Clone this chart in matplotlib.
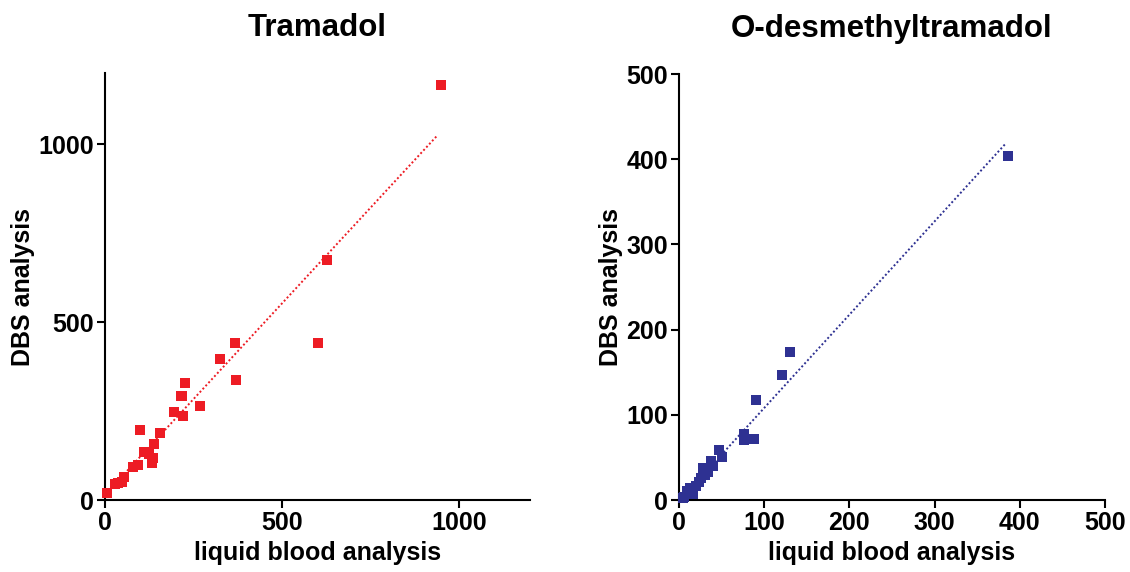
import matplotlib
matplotlib.use("Agg")
import matplotlib.pyplot as plt
import numpy as np

plt.rcParams['font.family'] = ['Liberation Sans', 'DejaVu Sans']
plt.rcParams['font.weight'] = 'bold'

# Tramadol data
tram_x = [5, 28, 37, 47, 53, 80, 94, 98, 110, 125, 136, 134, 139, 155, 196, 219, 216, 226,
          268, 325, 368, 369, 628, 601, 950]
tram_y = [21, 44, 47, 50, 66, 92, 97, 196, 135, 129, 119, 105, 157, 187, 247, 235, 293, 329,
          265, 396, 441, 338, 674, 440, 1166]
tram_fit_x = [5, 937]
tram_fit_y = [20, 1023]

# O-desmethyltramadol data
odt_x = [130, 120.5, 90, 88, 76, 76, 47, 50, 38, 40, 28, 34, 30.5, 26, 23, 19.6, 17, 13, 9, 6, 5, 386]
odt_y = [174, 147, 117, 72, 78, 71, 59, 50, 46, 40, 37, 33, 29, 26, 21, 16, 7, 14, 10, 4, 2, 404]
odt_fit_x = [5, 384]
odt_fit_y = [4, 419]

titles = ["Tramadol", "O-desmethyltramadol"]
xlabel = "liquid blood analysis"
ylabel = "DBS analysis"

fig = plt.figure(figsize=(11.3, 5.72), dpi=100)
ax1 = fig.add_axes([105/1130, 72/572, 425/1130, 427/572])
ax2 = fig.add_axes([679/1130, 72/572, 426/1130, 426/572])

def style(ax, color, xs, ys, fx, fy, lim, ticks, title):
    ax.plot(fx, fy, linestyle=(0, (1, 1.2)), color=color, linewidth=1.4)
    ax.scatter(xs, ys, marker='s', s=52, color=color, edgecolors='none', zorder=3, clip_on=False)
    ax.set_xlim(0, lim)
    ax.set_ylim(0, lim)
    ax.set_xticks(ticks)
    ax.set_yticks(ticks)
    for s in ['top', 'right']:
        ax.spines[s].set_visible(False)
    for s in ['left', 'bottom']:
        ax.spines[s].set_linewidth(1.5)
    ax.tick_params(direction='out', length=6, width=1.5, labelsize=18, pad=2)
    for lab in ax.get_xticklabels() + ax.get_yticklabels():
        lab.set_fontweight('bold')
    ax.set_xlabel(xlabel, fontsize=18, fontweight='bold', labelpad=4)
    ax.set_ylabel(ylabel, fontsize=18, fontweight='bold', labelpad=2)
    ax.set_title(title, fontsize=22.5, fontweight='bold', pad=27)

style(ax1, '#ED1C24', tram_x, tram_y, tram_fit_x, tram_fit_y, 1200, [0, 500, 1000], titles[0])
style(ax2, '#2E3192', odt_x, odt_y, odt_fit_x, odt_fit_y, 500, [0, 100, 200, 300, 400, 500], titles[1])

fig.savefig("out.png", dpi=100)
